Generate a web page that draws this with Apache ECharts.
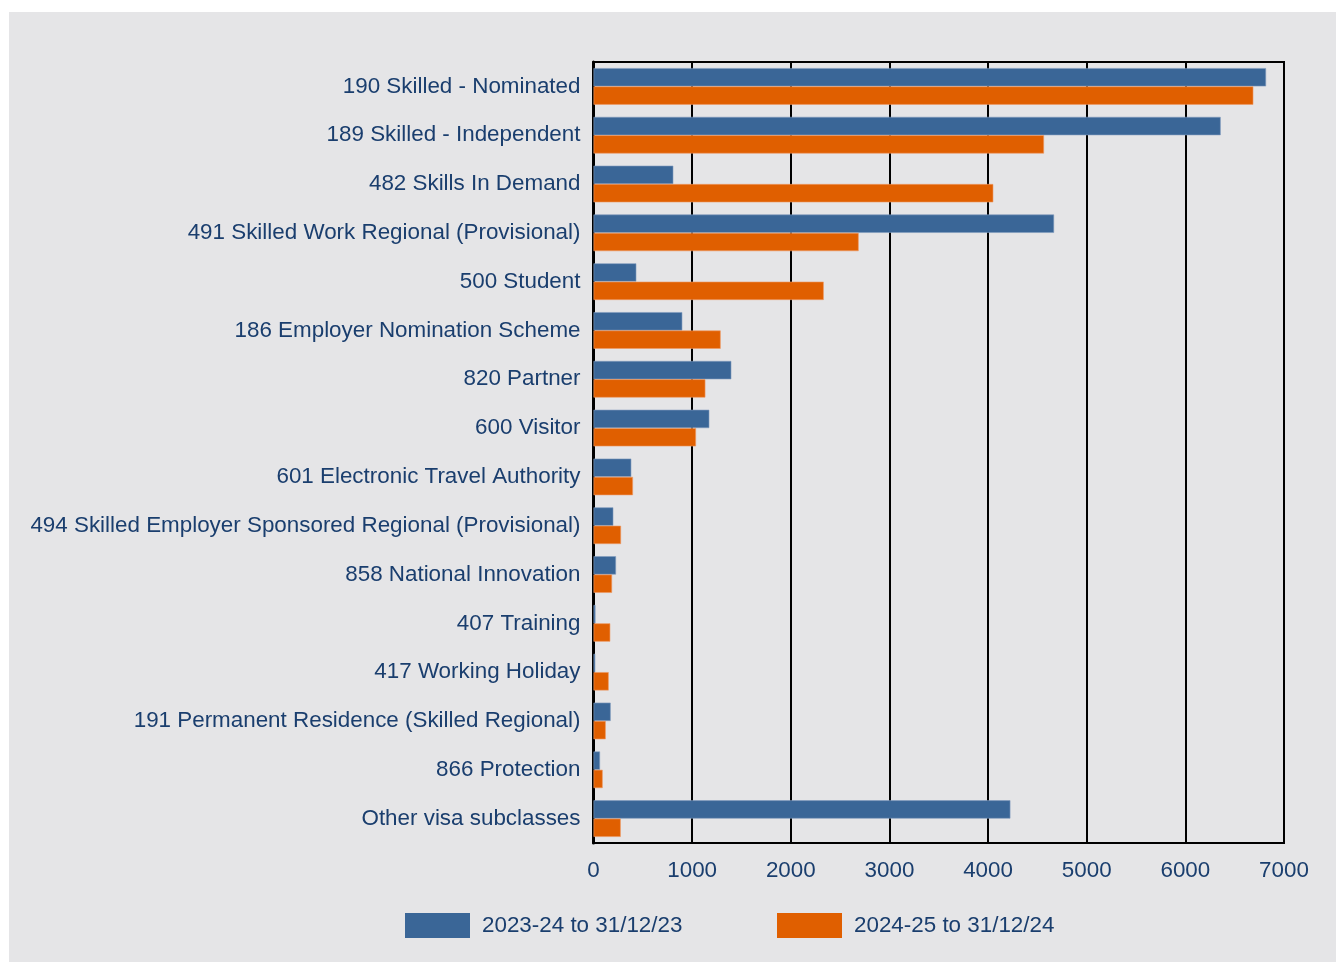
<!DOCTYPE html>
<html>
<head>
<meta charset="utf-8">
<script src="https://cdn.jsdelivr.net/npm/echarts@6/dist/echarts.min.js"></script>
<style>
  html, body { margin: 0; padding: 0; background: #ffffff; }
  #chart { position: absolute; left: 9px; top: 12px; width: 1327px; height: 950px; background: #e5e5e7; }
</style>
</head>
<body>
<div id="chart"></div>
<script>
// Visa subclasses, top to bottom
const categories = [
  '190 Skilled - Nominated',
  '189 Skilled - Independent',
  '482 Skills In Demand',
  '491 Skilled Work Regional (Provisional)',
  '500 Student',
  '186 Employer Nomination Scheme',
  '820 Partner',
  '600 Visitor',
  '601 Electronic Travel Authority',
  '494 Skilled Employer Sponsored Regional (Provisional)',
  '858 National Innovation',
  '407 Training',
  '417 Working Holiday',
  '191 Permanent Residence (Skilled Regional)',
  '866 Protection',
  'Other visa subclasses'
];

const seriesNames = ['2023-24 to 31/12/23', '2024-25 to 31/12/24'];

const values2023 = [6818, 6358, 809, 4669, 434, 900, 1397, 1174, 383, 201, 228, 20, 18, 174, 66, 4226];
const values2024 = [6689, 4567, 4053, 2688, 2334, 1289, 1134, 1039, 400, 279, 188, 170, 154, 124, 93, 276];

const xTicks = [0, 1000, 2000, 3000, 4000, 5000, 6000, 7000];

const textColor = '#1a3e6e';
const fontFamily = '"Liberation Sans", Arial, sans-serif';
const fontSize = 22.4;

const legendBase = {
  top: 896,
  itemWidth: 65, itemHeight: 25, itemGap: 0,
  icon: 'rect',
  itemStyle: { borderWidth: 0 },
  textStyle: { color: textColor, fontSize: fontSize, fontFamily: fontFamily, padding: [0, 0, 0, 7] }
};

const chart = echarts.init(document.getElementById('chart'));
chart.setOption({
  backgroundColor: '#e5e5e7',
  animation: false,
  textStyle: { fontFamily: fontFamily },
  grid: {
    left: 584.5, right: 52, top: 50, bottom: 119,
    show: true, borderColor: '#000000', borderWidth: 2, backgroundColor: 'transparent'
  },
  legend: [
    Object.assign({}, legendBase, { data: [seriesNames[0]], left: 391 }),
    Object.assign({}, legendBase, { data: [seriesNames[1]], left: 763 })
  ],
  xAxis: {
    type: 'value',
    min: xTicks[0], max: xTicks[xTicks.length - 1], interval: 1000,
    axisLine: { show: true, lineStyle: { color: '#000000', width: 2 } },
    axisTick: { show: false },
    axisLabel: {
      color: textColor, fontSize: fontSize, margin: 17, fontFamily: fontFamily,
      formatter: (v) => String(v)
    },
    splitLine: { show: true, lineStyle: { color: '#000000', width: 2 } }
  },
  yAxis: {
    type: 'category',
    data: categories,
    inverse: true,
    axisLine: { show: true, lineStyle: { color: '#000000', width: 3 } },
    axisTick: { show: false },
    axisLabel: { color: textColor, fontSize: fontSize, margin: 13, fontFamily: fontFamily, padding: [7, 0, 0, 0] },
    splitLine: { show: false }
  },
  series: [
    {
      name: seriesNames[0], type: 'bar', data: values2023,
      itemStyle: { color: '#3a6697', borderColor: '#7f9bbd', borderWidth: 0.6 },
      barGap: '0%', barCategoryGap: '25%'
    },
    {
      name: seriesNames[1], type: 'bar', data: values2024,
      itemStyle: { color: '#e05f00', borderColor: '#ee9a66', borderWidth: 0.6 },
      barGap: '0%', barCategoryGap: '25%'
    }
  ]
});
</script>
</body>
</html>
